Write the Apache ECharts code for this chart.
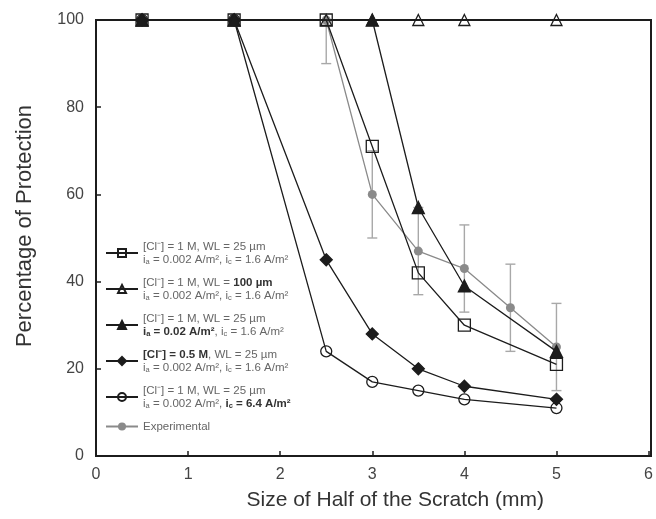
<!DOCTYPE html>
<html>
<head>
<meta charset="utf-8">
<script src="https://cdn.jsdelivr.net/npm/echarts@6/dist/echarts.min.js"></script>
<style>
  html, body { margin: 0; padding: 0; background: #fff; }
  #chart { width: 656px; height: 519px; }
</style>
</head>
<body>
<div id="chart"></div>
<script>
// half scratch size (mm)
const xModel = [0.5, 1.5, 2.5, 3, 3.5, 4, 5];
const xFtri = [0.5, 1.5, 3, 3.5, 4, 5];
const xExp = [2.5, 3, 3.5, 4, 4.5, 5];

const wl25 = [100, 100, 100, 71, 42, 30, 21];
const wl100 = [100, 100, 100, 100, 100, 100, 100];
const ia002 = [100, 100, 100, 57, 39, 24];
const cl05 = [100, 100, 45, 28, 20, 16, 13];
const ic64 = [100, 100, 24, 17, 15, 13, 11];
const expVals = [100, 60, 47, 43, 34, 25];
const expErr = [10, 10, 10, 10, 10, 10];

const xTicks = [0, 1, 2, 3, 4, 5, 6];
const yTicks = [0, 20, 40, 60, 80, 100];

const ink = '#1c1c1c';
const grey = '#8a8a8a';

const pairs = (xs, ys) => xs.map((x, i) => [x, ys[i]]);

const legendText = {
  'sq': '{n|[Cl⁻] = 1 M, WL = 25 µm}\n{n|i}{s|a}{n| = 0.002 A/m², i}{s|c}{n| = 1.6 A/m²}',
  'tri': '{n|[Cl⁻] = 1 M, WL = }{b|100 µm}\n{n|i}{s|a}{n| = 0.002 A/m², i}{s|c}{n| = 1.6 A/m²}',
  'ftri': '{n|[Cl⁻] = 1 M, WL = 25 µm}\n{b|i}{bs|a}{b| = 0.02 A/m²}{n|, i}{s|c}{n| = 1.6 A/m²}',
  'dia': '{b|[Cl⁻] = 0.5 M}{n|, WL = 25 µm}\n{n|i}{s|a}{n| = 0.002 A/m², i}{s|c}{n| = 1.6 A/m²}',
  'circ': '{n|[Cl⁻] = 1 M, WL = 25 µm}\n{n|i}{s|a}{n| = 0.002 A/m², }{b|i}{bs|c}{b| = 6.4 A/m²}',
  'exp': '{n|Experimental}'
};

function modelSeries(name, xs, ys, symbol, filled, size) {
  return {
    name: name,
    type: 'line',
    data: pairs(xs, ys),
    symbol: symbol,
    symbolSize: size,
    showAllSymbol: true,
    lineStyle: { color: ink, width: 1.3 },
    itemStyle: { color: filled ? ink : 'rgba(255,255,255,0)', borderColor: ink, borderWidth: 1.3 },
    z: 3
  };
}

const chart = echarts.init(document.getElementById('chart'));
chart.setOption({
  animation: false,
  backgroundColor: '#fff',
  grid: { left: 96, right: 5, top: 20, bottom: 63 },
  xAxis: {
    type: 'value',
    min: 0, max: 6, interval: 1,
    name: 'Size of Half of the Scratch (mm)',
    nameLocation: 'middle',
    nameGap: 34,
    nameTextStyle: { fontSize: 21, color: '#333', fontFamily: 'Liberation Sans', padding: [0, 0, 0, 46] },
    axisLine: { lineStyle: { color: ink, width: 2 } },
    axisTick: { inside: true, length: 5, lineStyle: { color: ink, width: 1.5 } },
    axisLabel: { fontSize: 16, color: '#444', margin: 11, fontFamily: 'Liberation Sans' },
    splitLine: { show: false }
  },
  yAxis: {
    type: 'value',
    min: 0, max: 100, interval: 20,
    name: 'Percentage of Protection',
    nameLocation: 'middle',
    nameGap: 60,
    nameTextStyle: { fontSize: 22, color: '#333', fontFamily: 'Liberation Sans', padding: [0, 0, 0, 24] },
    axisLine: { lineStyle: { color: ink, width: 2 } },
    axisTick: { inside: true, length: 5, lineStyle: { color: ink, width: 1.5 } },
    axisLabel: { fontSize: 16, color: '#444', margin: 12, fontFamily: 'Liberation Sans' },
    splitLine: { show: false }
  },
  legend: {
    orient: 'vertical',
    left: 100,
    top: 235,
    itemGap: 10,
    itemWidth: 32,
    itemHeight: 10,
    data: ['sq', 'tri', 'ftri', 'dia', 'circ', 'exp'],
    formatter: name => legendText[name],
    textStyle: {
      fontFamily: 'Liberation Sans',
      lineHeight: 13,
      rich: {
        n: { fontSize: 11.5, color: '#666', lineHeight: 13 },
        b: { fontSize: 11.5, color: '#333', fontWeight: 'bold', lineHeight: 13 },
        s: { fontSize: 7.5, color: '#666', lineHeight: 13, padding: [4, 0, 0, 0] },
        bs: { fontSize: 7.5, color: '#333', fontWeight: 'bold', lineHeight: 13, padding: [4, 0, 0, 0] }
      }
    }
  },
  series: [
    {
      name: 'exp-err',
      type: 'custom',
      data: xExp.map((x, i) => [x, expVals[i] - expErr[i], Math.min(100, expVals[i] + expErr[i])]),
      renderItem: function (params, api) {
        const lo = api.coord([api.value(0), api.value(1)]);
        const hi = api.coord([api.value(0), api.value(2)]);
        const cap = 5;
        const st = { stroke: '#a8a8a8', lineWidth: 1.4 };
        const kids = [
          { type: 'line', shape: { x1: lo[0], y1: lo[1], x2: hi[0], y2: hi[1] }, style: st },
          { type: 'line', shape: { x1: lo[0] - cap, y1: lo[1], x2: lo[0] + cap, y2: lo[1] }, style: st }
        ];
        if (api.value(2) < 100) {
          kids.push({ type: 'line', shape: { x1: hi[0] - cap, y1: hi[1], x2: hi[0] + cap, y2: hi[1] }, style: st });
        }
        return { type: 'group', children: kids };
      },
      z: 1
    },
    {
      name: 'exp',
      type: 'line',
      data: pairs(xExp, expVals),
      symbol: 'circle',
      symbolSize: 9,
      lineStyle: { color: grey, width: 1.3 },
      itemStyle: { color: grey },
      z: 2
    },
    modelSeries('circ', xModel, ic64, 'circle', false, 11),
    modelSeries('dia', xModel, cl05, 'diamond', true, 12),
    modelSeries('tri', xModel, wl100, 'triangle', false, 11),
    modelSeries('ftri', xFtri, ia002, 'triangle', true, 12),
    modelSeries('sq', xModel, wl25, 'rect', false, 12)
  ],
  graphic: [
    {
      type: 'rect',
      shape: { x: 96, y: 20, width: 555, height: 436 },
      style: { fill: 'none', stroke: ink, lineWidth: 2 },
      silent: true,
      z: 0
    }
  ]
});
</script>
</body>
</html>
